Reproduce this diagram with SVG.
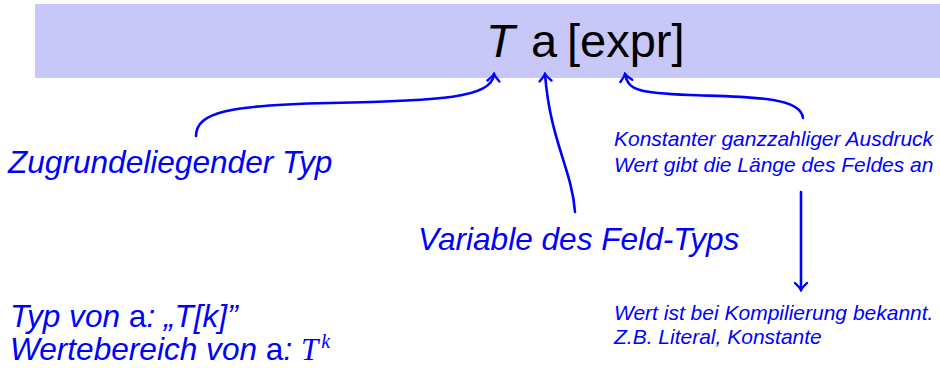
<svg xmlns="http://www.w3.org/2000/svg" width="940" height="368" viewBox="0 0 940 368">
<style>
.lbl{font-family:"Liberation Sans",Arial,sans-serif;font-style:italic;fill:#0000ff}
.big{font-size:31.6px}
.sm{font-size:21px}
.title{font-family:"Liberation Sans",Arial,sans-serif;font-size:47px;fill:#000}
.conn{fill:none;stroke:#0000ff;stroke-width:2.6;stroke-linecap:round}
</style>
<defs>
<marker id="ah" viewBox="-10 -8 12 16" markerWidth="12" markerHeight="16" refX="0" refY="0" orient="auto" markerUnits="userSpaceOnUse">
<path d="M-7,-6 Q-2,-1 0,0 Q-2,1 -7,6" fill="none" stroke="#0000ff" stroke-width="2.4" stroke-linecap="round"/>
</marker>
</defs>
<g id="band">
<rect x="35" y="4" width="905" height="74" fill="#c8c8f8"/>
<text class="title" x="486" y="57" font-style="italic">T</text>
<text class="title" x="531" y="57">a</text>
<text class="title" x="567" y="57">[expr]</text>
</g>
<g id="connectors">
<path class="conn" d="M196,136 C196,112 230,105 330,103 C440,101 492,98 494,74" marker-end="url(#ah)"/>
<path class="conn" d="M575,212 C572,170 550,140 545,74" marker-end="url(#ah)"/>
<path class="conn" d="M803,118 C801,96 745,97 690,95 C638,93 628,90 625,74" marker-end="url(#ah)"/>
<path class="conn" d="M801,192 L801,290" marker-end="url(#ah)"/>
</g>
<g id="n-typ">
<text class="lbl big" x="8" y="173">Zugrundeliegender Typ</text>
</g>
<g id="n-var">
<text class="lbl big" x="418" y="250">Variable des Feld-Typs</text>
</g>
<g id="n-expr">
<text class="lbl sm" x="614" y="146">Konstanter ganzzahliger Ausdruck</text>
<text class="lbl sm" x="614" y="172">Wert gibt die Länge des Feldes an</text>
</g>
<g id="n-compile">
<text class="lbl sm" x="614" y="320">Wert ist bei Kompilierung bekannt.</text>
<text class="lbl sm" x="614" y="344">Z.B. Literal, Konstante</text>
</g>
<g id="n-info">
<text class="lbl big" x="10" y="327">Typ von <tspan font-style="normal">a</tspan>: „T[k]”</text>
<text class="lbl big" x="10" y="360">Wertebereich von <tspan font-style="normal">a</tspan>: <tspan font-family="Liberation Serif,serif" font-size="31">T</tspan><tspan font-family="Liberation Serif,serif" font-size="20" dx="3" dy="-12">k</tspan></text>
</g>
</svg>
